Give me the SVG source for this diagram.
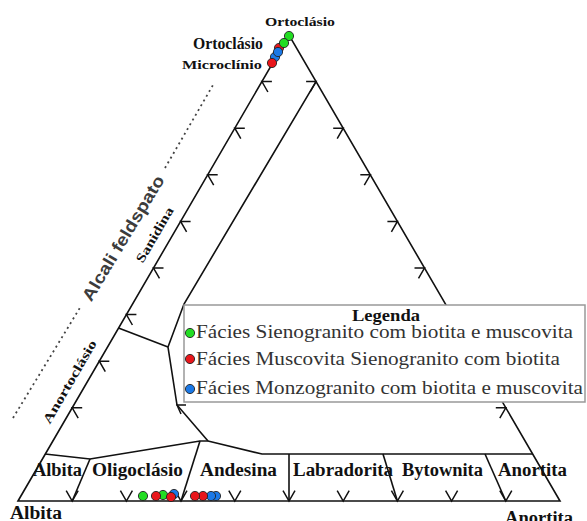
<svg xmlns="http://www.w3.org/2000/svg" width="587" height="521" viewBox="0 0 587 521">
<style>
.ln{fill:none;stroke:#111;stroke-width:1.6;stroke-linejoin:miter}
.mk{fill:none;stroke:#111;stroke-width:1.5}
.lb{font-family:"Liberation Serif","Times New Roman",serif;font-weight:bold;fill:#111}
.lg{font-family:"Liberation Serif","Times New Roman",serif;fill:#333;font-size:19px}
.g{fill:#22dd22;stroke:#222;stroke-width:0.9}
.r{fill:#e8161b;stroke:#222;stroke-width:0.9}
.b{fill:#1a78e6;stroke:#222;stroke-width:0.9}
.dot{stroke:#444;stroke-width:1.8;stroke-dasharray:2 3.5;fill:none}
</style>
<rect width="587" height="521" fill="#fff"/>
<g id="connectors">
<polygon class="ln" points="18,501 289,35 560,501"/>
<polyline class="ln" points="316,81.6 184,304 168,347 177,405 208,441"/>
<line class="ln" x1="118.5" y1="328" x2="168" y2="347"/>
<polyline class="ln" points="45,454 90,459 200,441 208,441 262,454 533,454"/>
<line class="ln" x1="90" y1="459" x2="72.2" y2="501"/>
<line class="ln" x1="200" y1="441" x2="181" y2="501"/>
<line class="ln" x1="289" y1="454" x2="289" y2="501"/>
<line class="ln" x1="383" y1="454" x2="397.4" y2="501"/>
<line class="ln" x1="485" y1="454" x2="505.8" y2="501"/>
<g id="marks-left">
<polyline class="mk" points="82.2,407.8 72.2,407.8 78.2,418.2"/>
<polyline class="mk" points="109.3,361.2 99.3,361.2 105.3,371.6"/>
<polyline class="mk" points="136.4,314.6 126.4,314.6 132.4,325"/>
<polyline class="mk" points="163.5,268 153.5,268 159.5,278.4"/>
<polyline class="mk" points="190.6,221.4 180.6,221.4 186.6,231.8"/>
<polyline class="mk" points="217.7,174.8 207.7,174.8 213.7,185.2"/>
<polyline class="mk" points="244.8,128.2 234.8,128.2 240.8,138.6"/>
<polyline class="mk" points="271.9,81.6 261.9,81.6 267.9,92"/>
</g>
<g id="marks-right">
<polyline class="mk" points="495.8,407.8 505.8,407.8 499.8,418.2"/>
<polyline class="mk" points="414.5,268 424.5,268 418.5,278.4"/>
<polyline class="mk" points="387.4,221.4 397.4,221.4 391.4,231.8"/>
<polyline class="mk" points="360.3,174.8 370.3,174.8 364.3,185.2"/>
<polyline class="mk" points="333.2,128.2 343.2,128.2 337.2,138.6"/>
<polyline class="mk" points="306.1,81.6 316.1,81.6 310.1,92"/>
</g>
<g id="marks-bottom">
<polyline class="mk" points="66.2,490.6 72.2,501 78.2,490.6"/>
<polyline class="mk" points="120.4,490.6 126.4,501 132.4,490.6"/>
<polyline class="mk" points="175,490.6 181,501 187,490.6"/>
<polyline class="mk" points="228.8,490.6 234.8,501 240.8,490.6"/>
<polyline class="mk" points="283,490.6 289,501 295,490.6"/>
<polyline class="mk" points="337.2,490.6 343.2,501 349.2,490.6"/>
<polyline class="mk" points="391.4,490.6 397.4,501 403.4,490.6"/>
<polyline class="mk" points="445.6,490.6 451.6,501 457.6,490.6"/>
<polyline class="mk" points="499.8,490.6 505.8,501 511.8,490.6"/>
</g>
<polyline class="mk" points="186,405 177,405 181,414"/>
<line class="dot" x1="13" y1="418" x2="81" y2="306"/>
<line class="dot" x1="165" y1="168" x2="213" y2="85"/>
</g>
<g id="points-top">
<circle class="r" cx="279" cy="48" r="4.6"/>
<circle class="g" cx="289" cy="36" r="4.6"/>
<circle class="g" cx="284" cy="43" r="4.6"/>
<circle class="b" cx="275" cy="57" r="4.6"/>
<circle class="b" cx="278" cy="52" r="4.6"/>
<circle class="r" cx="272" cy="63" r="4.6"/>
</g>
<g id="points-bottom">
<circle class="g" cx="143" cy="496" r="4.6"/>
<circle class="g" cx="163" cy="495" r="4.6"/>
<circle class="r" cx="156" cy="496" r="4.6"/>
<circle class="b" cx="174" cy="494" r="4.6"/>
<circle class="r" cx="171" cy="497" r="4.6"/>
<circle class="b" cx="216" cy="496" r="4.6"/>
<circle class="b" cx="211" cy="496" r="4.6"/>
<circle class="r" cx="203" cy="496" r="4.6"/>
<circle class="r" cx="195" cy="496" r="4.6"/>
</g>
<g id="vertex-labels">
<text class="lb" x="265" y="26" font-size="13" textLength="70" lengthAdjust="spacingAndGlyphs">Ortoclásio</text>
<text class="lb" x="193" y="49" font-size="17" textLength="70" lengthAdjust="spacingAndGlyphs">Ortoclásio</text>
<text class="lb" x="182" y="68.5" font-size="13" textLength="80" lengthAdjust="spacingAndGlyphs">Microclínio</text>
<text class="lb" x="10" y="519" font-size="18" textLength="52" lengthAdjust="spacingAndGlyphs">Albita</text>
<text class="lb" x="505" y="524" font-size="18" textLength="68" lengthAdjust="spacingAndGlyphs">Anortita</text>
</g>
<g id="side-labels">
<text class="lb" font-size="13" text-anchor="middle" textLength="62" lengthAdjust="spacingAndGlyphs" transform="translate(155,235) rotate(-59.8)" x="0" y="4">Sanidina</text>
<text class="lb" font-size="13" text-anchor="middle" textLength="94" lengthAdjust="spacingAndGlyphs" transform="translate(70,382) rotate(-59.8)" x="0" y="4">Anortoclásio</text>
<text font-family="Liberation Sans, Arial, sans-serif" font-weight="bold" font-size="17" fill="#3c3c3c" text-anchor="middle" textLength="143" lengthAdjust="spacingAndGlyphs" transform="translate(123,238) rotate(-59)" x="0" y="6">Alcali feldspato</text>
</g>
<g id="plagioclase-labels">
<text class="lb" x="33" y="476" font-size="18" textLength="49" lengthAdjust="spacingAndGlyphs">Albita</text>
<text class="lb" x="92" y="476" font-size="18" textLength="91" lengthAdjust="spacingAndGlyphs">Oligoclásio</text>
<text class="lb" x="200" y="476" font-size="18" textLength="77" lengthAdjust="spacingAndGlyphs">Andesina</text>
<text class="lb" x="293" y="476" font-size="18" textLength="100" lengthAdjust="spacingAndGlyphs">Labradorita</text>
<text class="lb" x="402" y="476" font-size="18" textLength="81" lengthAdjust="spacingAndGlyphs">Bytownita</text>
<text class="lb" x="498" y="476" font-size="18" textLength="69" lengthAdjust="spacingAndGlyphs">Anortita</text>
</g>
<g id="legend">
<rect x="184" y="305" width="401" height="97" fill="#fff" stroke="#999" stroke-width="1.5"/>
<text class="lb" x="386" y="321" font-size="17" text-anchor="middle" textLength="68" lengthAdjust="spacingAndGlyphs">Legenda</text>
<circle class="g" cx="190" cy="333" r="4.6"/>
<circle class="r" cx="190" cy="359" r="4.6"/>
<circle class="b" cx="190" cy="389" r="4.6"/>
<text class="lg" x="196" y="338" textLength="377" lengthAdjust="spacingAndGlyphs">Fácies Sienogranito com biotita e muscovita</text>
<text class="lg" x="196" y="365" textLength="364" lengthAdjust="spacingAndGlyphs">Fácies Muscovita Sienogranito com biotita</text>
<text class="lg" x="196" y="394" textLength="387" lengthAdjust="spacingAndGlyphs">Fácies Monzogranito com biotita e muscovita</text>
</g>
</svg>
